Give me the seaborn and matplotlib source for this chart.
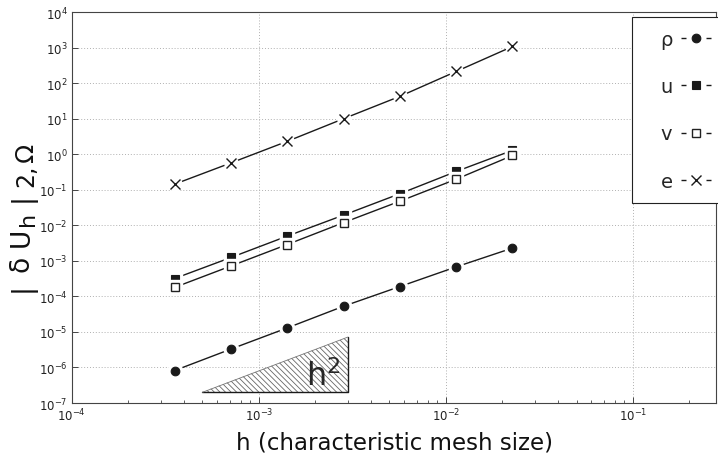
import numpy as np
import pandas as pd
import matplotlib
matplotlib.use('Agg')
import matplotlib.pyplot as plt
import seaborn as sns
from matplotlib.lines import Line2D
from matplotlib.patches import Polygon, Rectangle
from matplotlib.ticker import FixedLocator, NullLocator, LogLocator, FuncFormatter

# ---- data ----
h = [1/2816, 1/1408, 1/704, 1/352, 1/176, 1/88, 1/44]
rho = [8.2e-7, 3.3e-6, 1.3e-5, 5.3e-5, 1.9e-4, 6.8e-4, 2.3e-3]
u = [3.2e-4, 1.25e-3, 5.0e-3, 1.95e-2, 7.8e-2, 0.33, 1.3]
v = [1.8e-4, 7.2e-4, 2.9e-3, 1.2e-2, 4.8e-2, 0.2, 0.93]
e = [0.145, 0.575, 2.33, 10.1, 43, 216, 1090]
series_labels = ['ρ', 'u', 'v', 'e']
tri_x = [5e-4, 3e-3, 3e-3]
tri_y = [2e-7, 2e-7, 7.2e-6]
xtick_vals = [1e-4, 1e-3, 1e-2, 1e-1]
ytick_exps = list(range(-7, 5))
ylabel_parts = ['|', 'δ', 'U', 'h', '|', '2,', 'Ω']

sns.set_theme(style='white')
plt.rcParams['font.family'] = ['DejaVu Sans']
plt.rcParams['hatch.linewidth'] = 0.6

W, H = 718, 456
fig = plt.figure(figsize=(W / 100, H / 100), dpi=100)
ax = fig.add_axes([71.7 / W, 1 - 404 / H, (716.5 - 71.7) / W, (404 - 13.3) / H])
ax.set_xscale('log')
ax.set_yscale('log')
ax.set_xlim(1e-4, 0.28)
ax.set_ylim(1e-7, 1e4)

styles = [
    dict(marker='o', ms=6.2, mfc='k', mec='k', mew=0.8),
    dict(marker='s', ms=5.4, mfc='k', mec='k', mew=0.8),
    dict(marker='s', ms=5.4, mfc='white', mec='#222222', mew=1.0),
    dict(marker='x', ms=6.5, mfc='k', mec='k', mew=1.0),
]
halo = ['o', 's', 's', 'o']
halo_ms = [10.5, 10.0, 10.0, 9.5]

df = pd.DataFrame({'h': h * 4,
                   'val': rho + u + v + e,
                   'var': sum([[s] * len(h) for s in series_labels], [])})

for i, lab in enumerate(series_labels):
    sub = df[df['var'] == lab]
    base = 3 + i
    sns.lineplot(data=sub, x='h', y='val', ax=ax, color='k', lw=1.0,
                 zorder=base, legend=False, estimator=None)
    ax.plot(sub['h'], sub['val'], ls='none', marker=halo[i], ms=halo_ms[i],
            mfc='white', mec='white', zorder=base + 0.1)
    ax.plot(sub['h'], sub['val'], ls='none', zorder=base + 0.2, **styles[i])
ax.set_ylabel('')

# h^2 triangle
tri = Polygon(list(zip(tri_x, tri_y)), closed=True, facecolor='white',
              edgecolor='#666666', lw=0, hatch='\\\\\\\\\\\\', zorder=2)
ax.add_patch(tri)
ax.plot([tri_x[0], tri_x[1], tri_x[2]], [tri_y[0], tri_y[1], tri_y[2]],
        color='k', lw=1.0, zorder=2.5)
ax.plot([tri_x[0], tri_x[2]], [tri_y[0], tri_y[2]], color='#777777', lw=0.6, zorder=2.5)
ax.text(2.2e-3, 6.0e-7, 'h$^2$', fontsize=23, ha='center', va='center', zorder=2.6)

# ticks
fmt = FuncFormatter(lambda val, pos: '$\\mathregular{10^{%d}}$' % int(round(np.log10(val))))
ax.xaxis.set_major_locator(FixedLocator(xtick_vals))
ax.xaxis.set_minor_locator(LogLocator(base=10, subs=np.arange(2, 10)))
ax.yaxis.set_major_locator(FixedLocator([10.0 ** k for k in ytick_exps]))
ax.yaxis.set_minor_locator(NullLocator())
ax.xaxis.set_major_formatter(fmt)
ax.yaxis.set_major_formatter(fmt)
ax.xaxis.set_minor_formatter(plt.NullFormatter())
ax.tick_params(axis='both', which='major', direction='in', length=4, width=0.7,
               color='#444444', labelsize=8.5, labelcolor='#222222', pad=3)
ax.tick_params(axis='x', which='minor', direction='in', length=2.2, width=0.6,
               color='#444444', bottom=True)
ax.tick_params(axis='both', left=True, bottom=True, top=False, right=False)

for s in ax.spines.values():
    s.set_color('#444444')
    s.set_linewidth(0.8)

ax.grid(True, which='major', ls=(0, (1, 2)), color='#b0b0b0', lw=0.7)
ax.set_axisbelow(True)

ax.set_xlabel('h (characteristic mesh size)', fontsize=16.5, labelpad=5, color='#111111')

# y label built glyph-group by glyph-group (larger subscripts as in the reference)
renderer = fig.canvas.get_renderer()
y_px = 292.0
sizes = [19, 19, 19, 16, 19, 17, 18]
xbase = [29.0, 29.0, 29.0, 33.5, 29.0, 33.5, 33.5]
gaps = [11, 9, 1, 10, 6, 3, 0]
for part, fs, xb, gp in zip(ylabel_parts, sizes, xbase, gaps):
    t = fig.text(xb / W, 1 - y_px / H, part, fontsize=fs, rotation=90,
                 rotation_mode='anchor', ha='left', va='baseline', color='#111111')
    ext = t.get_window_extent(renderer)
    y_px -= ext.height + gp

# legend box
rect = Rectangle((632 / W, 1 - 204 / H), (730 - 632) / W, (204 - 18) / H,
                 transform=fig.transFigure, facecolor='white', edgecolor='#222222',
                 lw=0.8, clip_on=False, zorder=20)
ax.add_patch(rect)

handles = []
for i in range(4):
    st = dict(styles[i])
    handles.append(Line2D([], [], color='k', lw=1.0, ls=(0, (3.6, 14.4)), **st))
leg = ax.legend(handles, series_labels, loc='upper left',
                bbox_to_anchor=(660 / W, 1 - 31 / H), bbox_transform=fig.transFigure,
                frameon=False, markerfirst=False, fontsize=14, handlelength=1.55,
                handletextpad=0.45, labelspacing=1.45, borderpad=0, borderaxespad=0,
                numpoints=1)
leg.set_zorder(21)

fig.savefig('out.png', dpi=100)
